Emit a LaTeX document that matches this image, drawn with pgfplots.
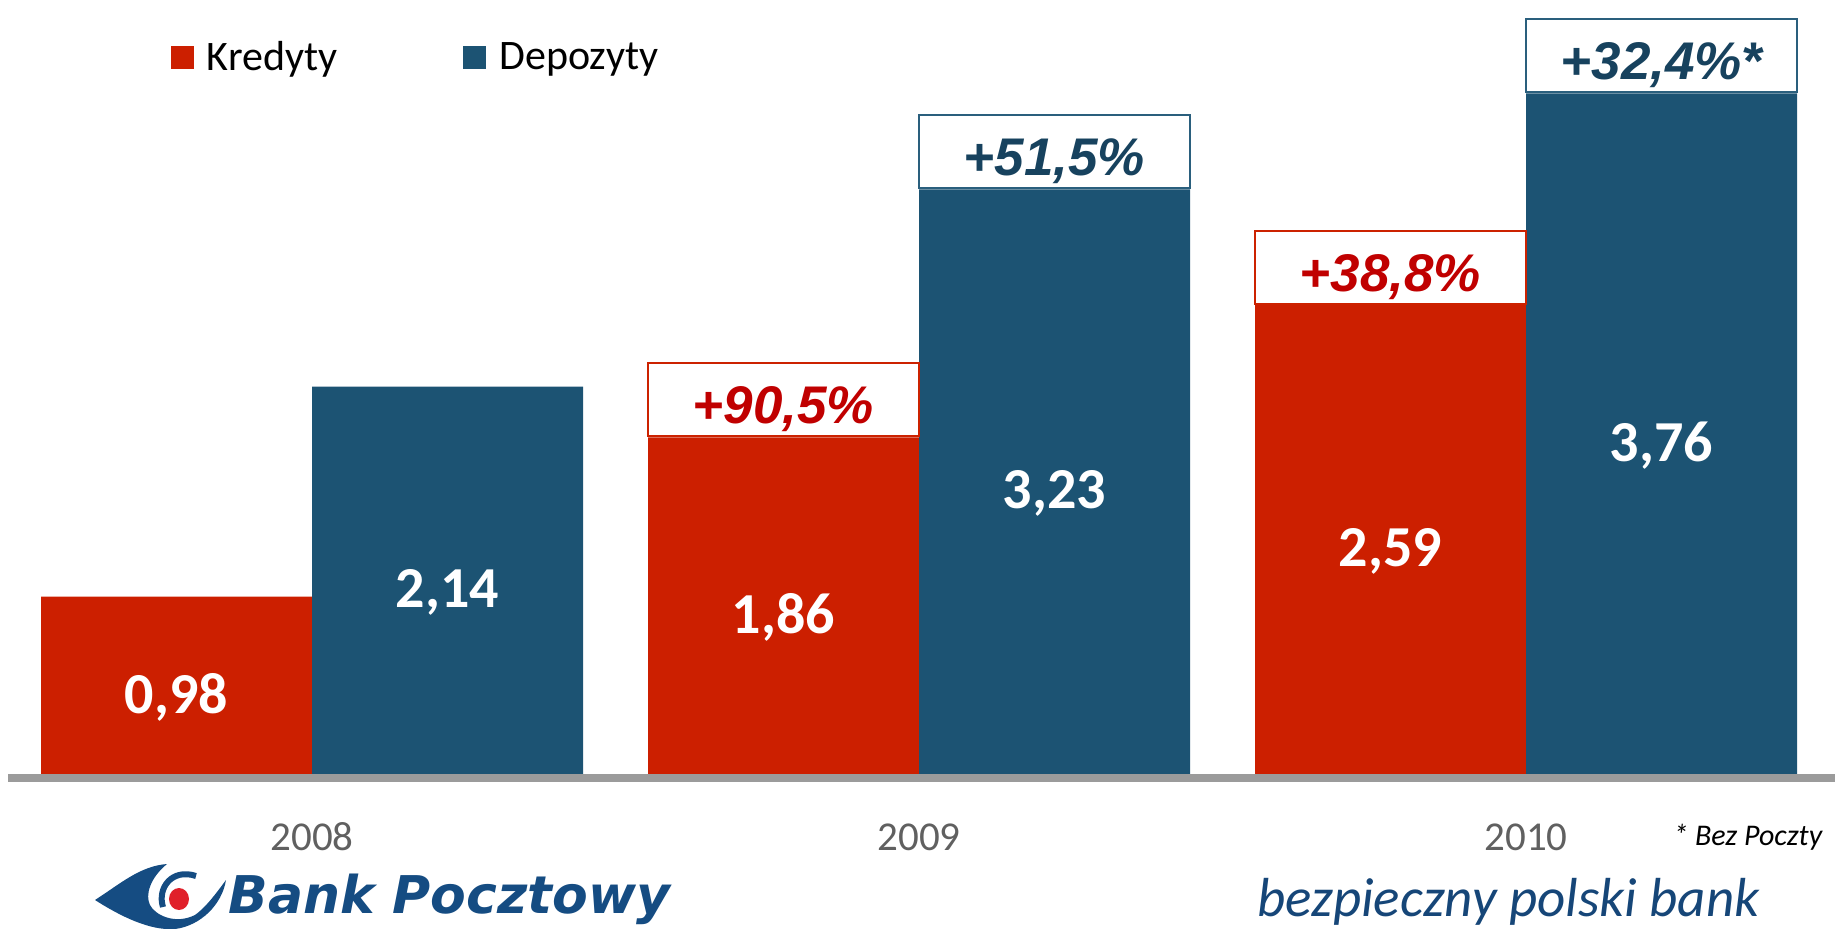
\documentclass[border=0pt]{standalone}
\usepackage{fontspec}
\setmainfont{Carlito}
\newfontfamily\arialfont{Liberation Sans}
\newfontfamily\logofont{DejaVu Sans}
\usepackage{pgfplots}
\usepackage{pgfplotstable}
\pgfplotsset{compat=1.18}

\definecolor{kred}{HTML}{CC1F00}
\definecolor{kblue}{HTML}{1C5373}
\definecolor{redtext}{HTML}{C00000}
\definecolor{bluetext}{HTML}{17425E}
\definecolor{redborder}{HTML}{CC2200}
\definecolor{blueborder}{HTML}{2A5F7D}
\definecolor{yeargray}{HTML}{606060}
\definecolor{basegray}{HTML}{9B9B9B}
\definecolor{logoblue}{HTML}{154C82}
\definecolor{tagblue}{HTML}{164678}
\definecolor{logored}{HTML}{E0202A}

% kredyty / depozyty (mld zl)
\pgfplotstableread{
x kredyty depozyty
0 0.98 2.14
1 1.86 3.23
2 2.59 3.76
}\datatable

% growth labels, year on year
\pgfplotstableread{
x y label
1 1.86 +90,5\%
2 2.59 +38,8\%
}\kredgrowth

\pgfplotstableread{
x y label
1 3.23 +51,5\%
2 3.76 +32,4\%*
}\depgrowth

\pgfplotsset{
  valuelabel/.style={
    visualization depends on={rawy \as \rawy},
    nodes near coords={\pgfmathprintnumber[fixed,fixed zerofill,precision=2,use comma]{\pgfplotspointmeta}},
    every node near coord/.append style={anchor=center, yshift=-\rawy*45.25pt-6pt,
      text=white, font=\bfseries\fontsize{29}{34}\selectfont},
  },
  growthlabel/.style={
    draw=none, fill=none, forget plot,
    point meta=explicit symbolic,
    nodes near coords,
    every node near coord/.append style={anchor=south, draw=#1, fill=white, line width=1pt,
      inner sep=0pt, minimum width=135.5pt, minimum height=36.5pt,
      text height=23.8pt, text depth=0pt},
  },
  squarelegend/.style={
    legend image code/.code={\fill[##1] (0pt,-5.75pt) rectangle (11.5pt,5.75pt);},
  },
}

\begin{document}
\begin{tikzpicture}
\path[use as bounding box] (0,0) rectangle (917.5pt,-464.5pt);
\begin{axis}[
  at={(156pt,-387pt)}, anchor=origin,
  x=303.5pt, y=90.5pt,
  xmin=-0.5, xmax=2.51, ymin=0, ymax=4.2,
  ybar, bar width=135.5pt,
  axis line style={draw=none}, tick style={draw=none},
  ytick=\empty, xtick={0,1,2}, xticklabels={2008,2009,2010},
  xticklabel style={anchor=base, yshift=-34pt, text=yeargray, font=\fontsize{20.5}{24}\selectfont},
  clip=false,
  /pgf/number format/assume math mode=true,
  legend columns=2,
  legend style={at={(axis description cs:0,1)}, anchor=north west, xshift=81pt, yshift=-11.5pt,
    draw=none, fill=none, inner sep=0pt, font=\fontsize{21}{25}\selectfont,
    /tikz/every odd column/.append style={column sep=4.5pt},
    /tikz/every even column/.append style={column sep=61pt}},
  legend cell align=left,
]
\addplot[fill=kred, draw=none, bar shift=-67.75pt, valuelabel, squarelegend]
  table[x=x, y=kredyty] {\datatable};
\addlegendentry{Kredyty}
\addplot[fill=kblue, draw=none, bar shift=67.75pt, valuelabel, squarelegend]
  table[x=x, y=depozyty] {\datatable};
\addlegendentry{Depozyty}

\addplot[bar shift=-67.75pt, growthlabel=redborder,
  every node near coord/.append style={text=redtext, font=\arialfont\bfseries\itshape\fontsize{26.5}{30}\selectfont}]
  table[x=x, y=y, meta=label] {\kredgrowth};
\addplot[bar shift=67.75pt, growthlabel=blueborder,
  every node near coord/.append style={text=bluetext, font=\arialfont\bfseries\itshape\fontsize{26.5}{30}\selectfont}]
  table[x=x, y=y, meta=label] {\depgrowth};

% baseline
\fill[basegray] (axis cs:-0.5,0) rectangle ([yshift=-4pt]axis cs:2.51,0);
\end{axis}

\begin{scope}[x=0.5pt, y=-0.5pt]
\node[anchor=base west, inner sep=0pt] at (1673,845) {\itshape\fontsize{15}{18}\selectfont * Bez Poczty};
\node[anchor=base west, inner sep=0pt, text=tagblue] at (1257,916) {\itshape\fontsize{27.5}{32}\selectfont bezpieczny polski bank};
\node[anchor=base west, inner sep=0pt, text=logoblue] at (228,913) {\logofont\bfseries\itshape\fontsize{26}{30}\selectfont Bank Pocztowy};
% logo mark
\fill[logoblue] (95,900) .. controls (120,884) and (140,866) .. (167,864)
  .. controls (150,878) and (145,895) .. (150,905)
  .. controls (155,915) and (175,925) .. (195,915)
  .. controls (205,908) and (215,895) .. (226,880)
  .. controls (222,905) and (200,926) .. (175,929)
  .. controls (150,931) and (120,916) .. (95,900) -- cycle;
\draw[logoblue, line width=3pt] (196,876) .. controls (172,868) and (157,888) .. (163,907);
\fill[logored] (179,899) ellipse (10 and 11);
\end{scope}
\end{tikzpicture}
\end{document}
